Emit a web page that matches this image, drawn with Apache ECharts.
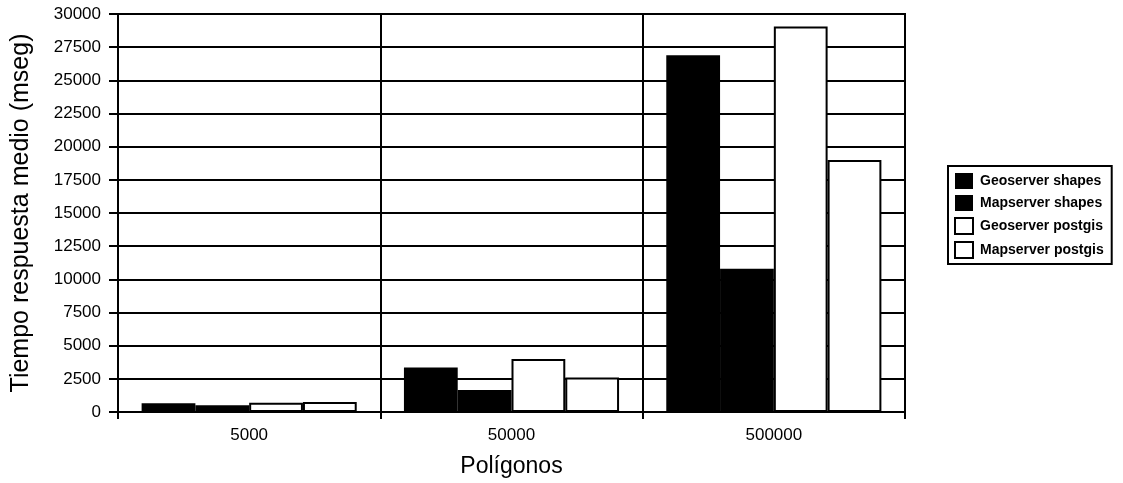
<!DOCTYPE html>
<html>
<head>
<meta charset="utf-8">
<script src="https://cdn.jsdelivr.net/npm/echarts@6/dist/echarts.min.js"></script>
<style>html,body{margin:0;padding:0;background:#fff}#c{width:1123px;height:483px}</style>
</head>
<body>
<div id="c"></div>
<script>
var categories = ['5000', '50000', '500000'];
var seriesNames = ['Geoserver shapes', 'Mapserver shapes', 'Geoserver postgis', 'Mapserver postgis'];
var geoserverShapes = [655, 3350, 26900];
var mapserverShapes = [500, 1650, 10800];
var geoserverPostgis = [700, 4000, 29050];
var mapserverPostgis = [750, 2600, 19000];
var yTicks = { min: 0, max: 30000, interval: 2500 };

var seriesData = [geoserverShapes, mapserverShapes, geoserverPostgis, mapserverPostgis];
var fills = ['#000', '#000', '#fff', '#fff'];
var font = '"Liberation Sans", Arial, sans-serif';

var chart = echarts.init(document.getElementById('c'), null, { renderer: 'canvas' });
chart.setOption({
  animation: false,
  backgroundColor: '#fff',
  grid: { left: 118, right: 218, top: 14, bottom: 70, show: true, borderColor: '#000', borderWidth: 2 },
  legend: {
    orient: 'vertical',
    left: 948, top: 166,
    padding: [7, 8, 5, 6],
    itemGap: 6,
    itemWidth: 18, itemHeight: 16,
    borderColor: '#000', borderWidth: 2,
    icon: 'rect',
    textStyle: { fontFamily: font, fontSize: 14, fontWeight: 'bold', color: '#000', padding: [0, 0, 0, 2] },
    data: seriesNames
  },
  xAxis: {
    type: 'category',
    data: categories,
    name: 'Polígonos',
    nameLocation: 'middle',
    nameGap: 43,
    nameTextStyle: { fontFamily: font, fontSize: 23, color: '#000' },
    axisLine: { lineStyle: { color: '#000', width: 2 } },
    axisTick: { show: true, length: 7, lineStyle: { color: '#000', width: 2 } },
    axisLabel: { margin: 15, fontFamily: font, fontSize: 17, color: '#000' },
    splitLine: { show: true, interval: 0, lineStyle: { color: '#000', width: 2 } }
  },
  yAxis: {
    type: 'value',
    min: yTicks.min, max: yTicks.max, interval: yTicks.interval,
    name: 'Tiempo respuesta medio (mseg)',
    nameLocation: 'middle',
    nameGap: 84,
    nameTextStyle: { fontFamily: font, fontSize: 25, color: '#000' },
    axisLine: { show: true, lineStyle: { color: '#000', width: 2 } },
    axisTick: { show: true, length: 9, lineStyle: { color: '#000', width: 2 } },
    axisLabel: { margin: 17, fontFamily: font, fontSize: 17, color: '#000', formatter: function (v) { return String(v); } },
    splitLine: { show: true, lineStyle: { color: '#000', width: 2 } }
  },
  series: seriesNames.map(function (n, i) {
    return {
      name: n,
      type: 'bar',
      data: seriesData[i],
      barGap: '0%',
      barCategoryGap: '18%',
      itemStyle: { color: fills[i], borderColor: '#000', borderWidth: i < 2 ? 0 : 2 }
    };
  })
});
</script>
</body>
</html>
